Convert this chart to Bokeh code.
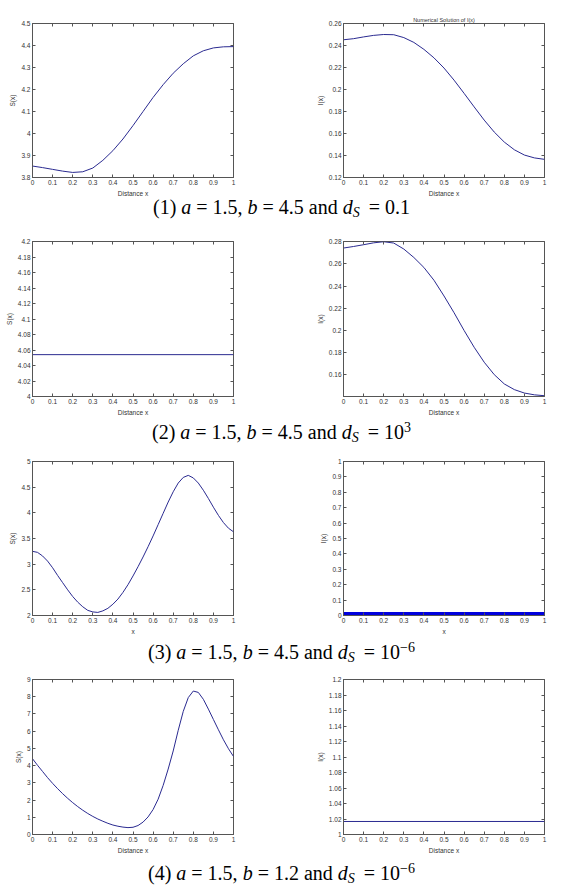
from bokeh.plotting import figure
from bokeh.layouts import column, row
from bokeh.models import Range1d, FixedTicker, LinearAxis, Div
from bokeh.embed import file_html
from bokeh.resources import INLINE

# ---------------- data ----------------
x_ticks = [0, 0.1, 0.2, 0.3, 0.4, 0.5, 0.6, 0.7, 0.8, 0.9, 1]
x_tick_labels = ["0", "0.1", "0.2", "0.3", "0.4", "0.5", "0.6", "0.7", "0.8", "0.9", "1"]

x_05 = [0, 0.05, 0.1, 0.15, 0.2, 0.25, 0.3, 0.35, 0.4, 0.45, 0.5,
        0.55, 0.6, 0.65, 0.7, 0.75, 0.8, 0.85, 0.9, 0.95, 1]
x_025 = [0, 0.025, 0.05, 0.075, 0.1, 0.125, 0.15, 0.175, 0.2, 0.225, 0.25,
         0.275, 0.3, 0.325, 0.35, 0.375, 0.4, 0.425, 0.45, 0.475, 0.5,
         0.525, 0.55, 0.575, 0.6, 0.625, 0.65, 0.675, 0.7, 0.725, 0.75,
         0.775, 0.8, 0.825, 0.85, 0.875, 0.9, 0.925, 0.95, 0.975, 1]
x_ends = [0, 1]

# (1) a=1.5, b=4.5, dS=0.1
s1 = [3.852, 3.845, 3.837, 3.829, 3.823, 3.826, 3.843, 3.878, 3.922, 3.975, 4.036,
      4.100, 4.164, 4.222, 4.274, 4.317, 4.353, 4.376, 4.389, 4.394, 4.395]
i1 = [0.2452, 0.2462, 0.2478, 0.2492, 0.2500, 0.2498, 0.2472, 0.2428, 0.2365, 0.2288, 0.2195,
      0.2085, 0.1965, 0.1842, 0.1722, 0.1613, 0.1522, 0.1452, 0.1404, 0.1378, 0.1365]
# (2) a=1.5, b=4.5, dS=10^3
s2 = [4.054, 4.054]
i2 = [0.2743, 0.2757, 0.2773, 0.2790, 0.2800, 0.2788, 0.2734, 0.2658, 0.2568, 0.2453, 0.2311,
      0.2160, 0.2000, 0.1849, 0.1714, 0.1602, 0.1518, 0.1467, 0.1436, 0.1420, 0.1412]
# (3) a=1.5, b=4.5, dS=10^-6
s3 = [3.25, 3.23, 3.16, 3.06, 2.93, 2.78, 2.64, 2.50, 2.37, 2.26, 2.17,
      2.10, 2.07, 2.06, 2.09, 2.14, 2.22, 2.32, 2.45, 2.60, 2.77,
      2.95, 3.14, 3.34, 3.55, 3.77, 3.99, 4.21, 4.41, 4.58, 4.69,
      4.73, 4.68, 4.58, 4.44, 4.28, 4.11, 3.95, 3.81, 3.70, 3.63]
i3 = [0, 0]
# (4) a=1.5, b=1.2, dS=10^-6
s4 = [4.40, 4.02, 3.66, 3.30, 2.97, 2.66, 2.37, 2.10, 1.85, 1.62, 1.41,
      1.22, 1.05, 0.90, 0.77, 0.65, 0.55, 0.48, 0.43, 0.40, 0.42,
      0.52, 0.72, 1.02, 1.45, 2.05, 2.85, 3.80, 4.85, 6.05, 7.15,
      7.95, 8.33, 8.25, 7.85, 7.28, 6.68, 6.08, 5.50, 4.98, 4.53]
i4 = [1.0168, 1.0168]

# y ticks / labels
yt1 = [3.8, 3.9, 4, 4.1, 4.2, 4.3, 4.4, 4.5]
yl1 = ["3.8", "3.9", "4", "4.1", "4.2", "4.3", "4.4", "4.5"]
yt2 = [0.12, 0.14, 0.16, 0.18, 0.2, 0.22, 0.24, 0.26]
yl2 = ["0.12", "0.14", "0.16", "0.18", "0.2", "0.22", "0.24", "0.26"]
yt3 = [4, 4.02, 4.04, 4.06, 4.08, 4.1, 4.12, 4.14, 4.16, 4.18, 4.2]
yl3 = ["4", "4.02", "4.04", "4.06", "4.08", "4.1", "4.12", "4.14", "4.16", "4.18", "4.2"]
yt4 = [0.16, 0.18, 0.2, 0.22, 0.24, 0.26, 0.28]
yl4 = ["0.16", "0.18", "0.2", "0.22", "0.24", "0.26", "0.28"]
yt5 = [2, 2.5, 3, 3.5, 4, 4.5, 5]
yl5 = ["2", "2.5", "3", "3.5", "4", "4.5", "5"]
yt6 = [0, 0.1, 0.2, 0.3, 0.4, 0.5, 0.6, 0.7, 0.8, 0.9, 1]
yl6 = ["0", "0.1", "0.2", "0.3", "0.4", "0.5", "0.6", "0.7", "0.8", "0.9", "1"]
yt7 = [0, 1, 2, 3, 4, 5, 6, 7, 8, 9]
yl7 = ["0", "1", "2", "3", "4", "5", "6", "7", "8", "9"]
yt8 = [1, 1.02, 1.04, 1.06, 1.08, 1.1, 1.12, 1.14, 1.16, 1.18, 1.2]
yl8 = ["1", "1.02", "1.04", "1.06", "1.08", "1.1", "1.12", "1.14", "1.16", "1.18", "1.2"]

captions = [
    "(1) <i>a</i> = 1.5, <i>b</i> = 4.5 and <i>d<sub>S</sub></i>&thinsp; = 0.1",
    "(2) <i>a</i> = 1.5, <i>b</i> = 4.5 and <i>d<sub>S</sub></i>&thinsp; = 10<sup>3</sup>",
    "(3) <i>a</i> = 1.5, <i>b</i> = 4.5 and <i>d<sub>S</sub></i>&thinsp; = 10<sup>\u22126</sup>",
    "(4) <i>a</i> = 1.5, <i>b</i> = 1.2 and <i>d<sub>S</sub></i>&thinsp; = 10<sup>\u22126</sup>",
]

# ---------------- styling helpers ----------------
FONT = "Liberation Sans"
AX = "#555555"
TXT = "#333333"
LINE = "#2a2a90"

LEFT_W, RIGHT_W = 268, 286
PAGE_W = 563


def style_axis(ax, ticks, labels, label):
    ax.ticker = FixedTicker(ticks=ticks)
    ax.major_label_overrides = dict(zip(ticks, labels))
    ax.major_tick_in = 3
    ax.major_tick_out = 0
    ax.minor_tick_line_color = None
    ax.axis_line_color = AX
    ax.major_tick_line_color = AX
    ax.major_label_text_font = FONT
    ax.major_label_text_font_size = "6.5px"
    ax.major_label_text_color = TXT
    ax.major_label_standoff = 2
    ax.axis_label = label
    ax.axis_label_text_font = FONT
    ax.axis_label_text_font_size = "6.5px"
    ax.axis_label_text_font_style = "normal"
    ax.axis_label_text_color = TXT
    ax.axis_label_standoff = 2


def tick_only_axis(ticks):
    return LinearAxis(
        ticker=FixedTicker(ticks=ticks),
        major_label_overrides={t: "" for t in ticks},
        major_label_text_font_size="0px",
        major_label_standoff=0,
        major_tick_in=3, major_tick_out=0,
        minor_tick_line_color=None,
        axis_line_color=None,
        major_tick_line_color=AX,
    )


def panel(left, height, top, bottom, yr, yt, yl, ylabel, xlabel, xs, ys,
          title=None, lw=1, color=LINE):
    if left:
        w, bl, br = LEFT_W, 32, 35
    else:
        w, bl, br = RIGHT_W, 75, 10
    p = figure(width=w, height=height, x_range=Range1d(0, 1), y_range=Range1d(*yr),
               output_backend="svg", toolbar_location=None,
               min_border_left=bl, min_border_right=br,
               min_border_top=top, min_border_bottom=bottom,
               background_fill_color="white", border_fill_color="white")
    if title:
        p.title.text = title
        p.title.align = "center"
        p.title.text_font = FONT
        p.title.text_font_size = "5.5px"
        p.title.text_font_style = "normal"
        p.title.text_color = TXT
        p.title.standoff = 2
    p.grid.visible = False
    p.outline_line_color = AX
    p.outline_line_width = 1
    style_axis(p.xaxis[0], x_ticks, x_tick_labels, xlabel)
    style_axis(p.yaxis[0], yt, yl, ylabel)
    p.add_layout(tick_only_axis(x_ticks), "above")
    p.add_layout(tick_only_axis(yt), "right")
    p.line(xs, ys, line_color=color, line_width=lw)
    return p


def caption(text, height, line_h):
    body = (text.replace("<sub>", '<sub style="font-size:14px;vertical-align:-3px;line-height:0;">')
                .replace("<sup>", '<sup style="font-size:14px;vertical-align:7px;line-height:0;">'))
    html = ('<div style="display:block;width:%dpx;font-family:\'Liberation Serif\';font-size:20px;'
            'line-height:%dpx;text-align:center;color:#000;white-space:nowrap;">%s</div>'
            % (PAGE_W, line_h, body))
    return Div(text=html, width=PAGE_W, height=height, margin=(0, 0, 0, 0))


p1 = panel(True, 199, 23, 22, (3.8, 4.5), yt1, yl1, "S(x)", "Distance x", x_05, s1)
p2 = panel(False, 199, 23, 22, (0.12, 0.26), yt2, yl2, "I(x)", "Distance x", x_05, i1,
           title="Numerical Solution of I(x)")
p3 = panel(True, 193, 16, 22, (4.0, 4.2), yt3, yl3, "S(x)", "Distance x", x_ends, s2)
p4 = panel(False, 193, 16, 22, (0.1405, 0.2802), yt4, yl4, "I(x)", "Distance x", x_05, i2)
p5 = panel(True, 191, 15, 22, (2, 5), yt5, yl5, "S(x)", "x", x_025, s3)
p6 = panel(False, 191, 15, 22, (0, 1), yt6, yl6, "I(x)", "x", x_ends, i3, lw=7, color="#0000dd")
p7 = panel(True, 189, 12, 22, (0, 9), yt7, yl7, "S(x)", "Distance x", x_025, s4)
p8 = panel(False, 189, 12, 22, (1, 1.2), yt8, yl8, "I(x)", "Distance x", x_ends, i4)

c1 = caption(captions[0], 26, 17)
c2 = caption(captions[1], 28, 28)
c3 = caption(captions[2], 30, 30)
c4 = caption(captions[3], 35, 35)

layout = column(
    row(p1, p2, spacing=0), c1,
    row(p3, p4, spacing=0), c2,
    row(p5, p6, spacing=0), c3,
    row(p7, p8, spacing=0), c4,
    spacing=0,
)

open("out.html", "w").write(file_html(layout, INLINE))
